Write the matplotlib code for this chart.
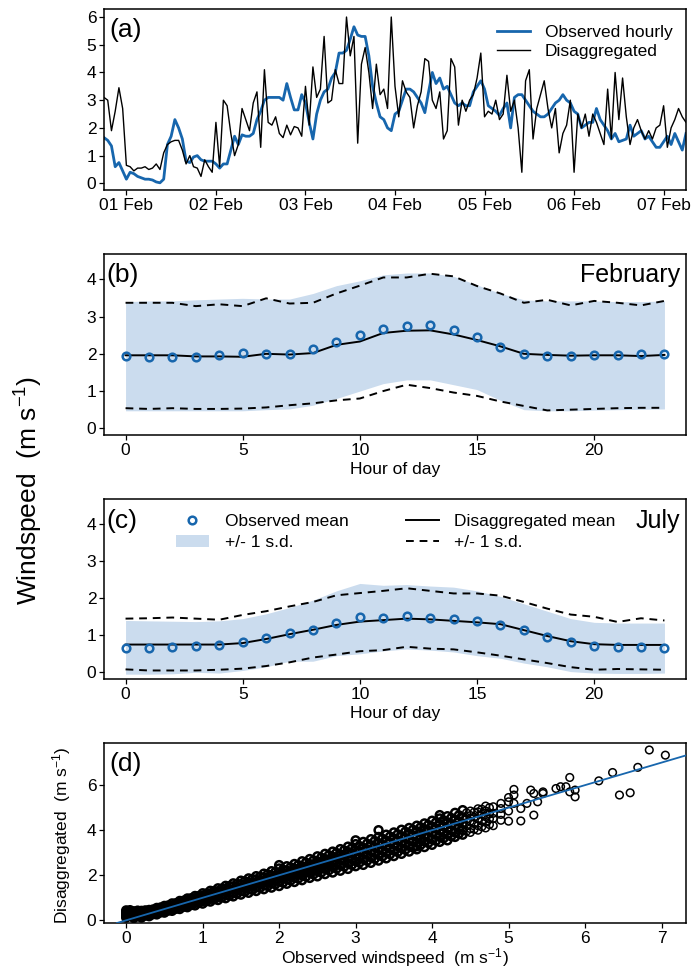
import numpy as np
import pandas as pd
import matplotlib
matplotlib.use('Agg')
import matplotlib.pyplot as plt
import matplotlib.dates as mdates
from matplotlib.patches import Patch
from matplotlib.lines import Line2D

plt.rcParams['font.family'] = ['Liberation Sans', 'DejaVu Sans']
plt.rcParams['mathtext.fontset'] = 'custom'
plt.rcParams['mathtext.rm'] = 'Liberation Sans'
plt.rcParams['mathtext.it'] = 'Liberation Sans:italic'
plt.rcParams['mathtext.default'] = 'rm'

BLUE = '#1766ad'
BAND = '#cbdcee'
W, H = 692, 971
FS = 12.5

# (a) one week of hourly windspeed, 31 Jan 18:00 .. 07 Feb 06:00
times = pd.date_range('2011-01-31 18:00', periods=157, freq='h')
obs_hourly = [
    1.65, 1.55, 1.35, 0.6, 0.75, 0.45, 0.15, 0.4, 0.35, 0.25, 0.2, 0.15,
    0.15, 0.12, 0.05, 0.02, 0.15, 1.4, 1.7, 2.3, 2.0, 1.6, 0.8, 0.75,
    0.95, 1.0, 0.85, 0.8, 0.8, 0.8, 0.7, 0.55, 0.7, 0.7, 1.2, 1.7,
    1.4, 1.75, 1.7, 1.7, 1.8, 2.3, 2.6, 3.0, 3.1, 3.1, 3.1, 3.1,
    3.0, 3.6, 3.1, 2.65, 2.65, 3.2, 2.9, 2.2, 1.6, 2.5, 3.0, 3.3,
    3.4, 3.8, 4.0, 4.7, 4.7, 4.8, 5.2, 5.65, 5.35, 5.3, 5.3, 4.6,
    3.5, 2.9, 2.4, 2.3, 2.0, 1.9, 2.5, 2.6, 3.0, 3.4, 3.4, 3.3,
    3.1, 2.9, 2.55, 3.3, 4.0, 3.6, 3.8, 3.4, 3.5, 3.2, 2.9, 2.8,
    2.9, 2.8, 2.8, 3.3, 3.5, 3.7, 3.4, 2.8, 2.7, 2.6, 2.45, 2.7,
    2.9, 2.0, 3.1, 3.2, 3.2, 3.0, 2.8, 2.6, 2.5, 2.4, 2.4, 2.5,
    2.7, 2.9, 3.0, 3.2, 3.0, 2.9, 2.6, 2.5, 2.0, 2.1, 2.2, 2.2,
    2.7, 2.3, 2.1, 1.9, 1.6, 1.8, 1.5, 1.55, 1.6, 2.1, 1.7, 1.8,
    1.9, 1.6, 1.7, 1.5, 1.3, 1.3, 1.5, 1.7, 1.4, 1.8, 1.5, 1.2,
    1.8]
dis_hourly = [
    3.1, 3.0, 1.9, 2.6, 3.45, 2.7, 0.65, 0.6, 0.45, 0.55, 0.55, 0.6,
    0.5, 0.55, 0.7, 0.5, 1.1, 1.4, 1.5, 1.55, 1.55, 1.2, 0.7, 1.0,
    0.6, 0.55, 0.25, 0.85, 0.6, 0.4, 2.2, 0.6, 3.0, 2.8, 1.8, 1.0,
    1.4, 2.7, 2.3, 1.9, 2.9, 3.3, 1.3, 4.1, 2.2, 2.1, 2.4, 1.8,
    1.65, 2.1, 1.75, 2.05, 2.0, 1.7, 3.5, 2.1, 4.2, 3.1, 3.4, 5.3,
    2.9, 3.0, 4.1, 3.6, 3.6, 6.0, 4.6, 5.3, 1.45, 4.3, 4.9, 4.0,
    2.7, 4.3, 3.2, 3.4, 2.7, 6.0, 3.5, 2.4, 3.7, 3.3, 3.1, 2.0,
    2.8, 3.3, 4.5, 4.4, 3.0, 2.7, 3.3, 1.6, 1.9, 4.5, 4.2, 2.1,
    3.0, 2.6, 3.0, 3.2, 3.8, 4.7, 2.4, 2.6, 2.5, 3.0, 2.3, 2.5,
    3.9, 2.6, 3.0, 2.0, 0.4, 3.7, 4.1, 1.6, 2.7, 3.2, 3.7, 2.7,
    2.0, 2.7, 1.1, 1.8, 2.1, 3.0, 0.4, 2.5, 2.0, 2.5, 1.7, 2.5,
    2.2, 1.8, 1.4, 3.4, 1.6, 4.0, 2.3, 3.8, 2.4, 1.4, 2.0, 2.3,
    1.9, 1.6, 1.9, 1.6, 2.0, 2.1, 2.8, 1.3, 2.0, 2.3, 2.7, 2.4,
    2.2]

# (b), (c) diurnal cycles
hours = list(range(24))
feb_obs_mean = [1.94, 1.92, 1.92, 1.92, 1.97, 2.03, 2.0, 2.0, 2.14, 2.33, 2.5, 2.66,
                2.75, 2.77, 2.64, 2.46, 2.17, 1.99, 1.94, 1.94, 1.97, 1.97, 1.99, 1.99]
feb_obs_lo = [0.47, 0.47, 0.47, 0.47, 0.47, 0.47, 0.5, 0.52, 0.62, 0.8, 1.0, 1.2,
              1.3, 1.3, 1.17, 1.04, 0.75, 0.5, 0.47, 0.47, 0.49, 0.5, 0.51, 0.52]
feb_obs_hi = [3.4, 3.42, 3.42, 3.45, 3.47, 3.49, 3.47, 3.47, 3.62, 3.83, 3.96, 4.12,
              4.17, 4.17, 4.08, 3.85, 3.62, 3.45, 3.42, 3.42, 3.42, 3.4, 3.4, 3.42]
feb_dis_mean = [1.96, 1.96, 1.96, 1.93, 1.93, 1.92, 2.0, 1.98, 2.02, 2.24, 2.33, 2.56,
                2.62, 2.63, 2.52, 2.37, 2.2, 2.0, 1.97, 1.95, 1.96, 1.96, 1.94, 1.97]
feb_dis_lo = [0.54, 0.52, 0.54, 0.52, 0.52, 0.53, 0.56, 0.62, 0.67, 0.75, 0.8, 1.0,
              1.17, 1.08, 0.96, 0.87, 0.72, 0.6, 0.48, 0.5, 0.52, 0.54, 0.55, 0.55]
feb_dis_hi = [3.37, 3.37, 3.37, 3.28, 3.33, 3.28, 3.49, 3.35, 3.37, 3.62, 3.83, 4.05,
              4.05, 4.15, 4.08, 3.82, 3.62, 3.37, 3.45, 3.3, 3.42, 3.37, 3.3, 3.42]

jul_obs_mean = [0.67, 0.65, 0.68, 0.7, 0.73, 0.81, 0.92, 1.05, 1.15, 1.34, 1.49, 1.46,
                1.52, 1.48, 1.45, 1.38, 1.29, 1.13, 0.95, 0.81, 0.72, 0.68, 0.68, 0.66]
jul_obs_lo = [-0.05, -0.05, -0.04, 0.0, -0.02, 0.05, 0.15, 0.3, 0.3, 0.45, 0.5, 0.58,
              0.63, 0.6, 0.55, 0.45, 0.38, 0.25, 0.15, 0.02, -0.02, -0.03, -0.03, -0.02]
jul_obs_hi = [1.4, 1.39, 1.38, 1.37, 1.39, 1.45, 1.58, 1.75, 1.95, 2.2, 2.4, 2.35,
              2.37, 2.33, 2.3, 2.2, 2.05, 1.85, 1.65, 1.45, 1.35, 1.33, 1.33, 1.33]
jul_dis_mean = [0.75, 0.75, 0.75, 0.75, 0.75, 0.79, 0.9, 1.03, 1.15, 1.28, 1.37, 1.41,
                1.45, 1.43, 1.39, 1.35, 1.3, 1.14, 0.98, 0.84, 0.76, 0.74, 0.74, 0.74]
jul_dis_lo = [0.08, 0.05, 0.05, 0.05, 0.07, 0.1, 0.17, 0.27, 0.4, 0.48, 0.57, 0.6,
              0.69, 0.64, 0.62, 0.54, 0.45, 0.35, 0.25, 0.14, 0.07, 0.09, 0.08, 0.07]
jul_dis_hi = [1.45, 1.46, 1.48, 1.45, 1.42, 1.55, 1.65, 1.78, 1.9, 2.08, 2.14, 2.2,
              2.27, 2.2, 2.13, 2.13, 2.07, 1.9, 1.72, 1.56, 1.5, 1.36, 1.46, 1.4]

# (d) observed vs disaggregated: observed value -> disaggregated values
scatter_rows = [
    (0.0, [0.12, 0.2, 0.28, 0.36, 0.44, 0.25, 0.32]),
    (0.05, [0.21, 0.29, 0.37, 0.45]),
    (0.1, [0.1, 0.18, 0.27, 0.35, 0.4]),
    (0.15, [0.19, 0.27, 0.36, 0.43]),
    (0.2, [0.12, 0.2, 0.28, 0.36, 0.42]),
    (0.25, [0.21, 0.29, 0.37, 0.44]),
    (0.3, [0.18, 0.25, 0.32, 0.4, 0.46]),
    (0.35, [0.27, 0.34, 0.41, 0.48]),
    (0.4, [0.26, 0.33, 0.4, 0.48, 0.55]),
    (0.45, [0.35, 0.42, 0.49, 0.57]),
    (0.5, [0.34, 0.42, 0.5, 0.58, 0.64]),
    (0.55, [0.43, 0.51, 0.59, 0.66]),
    (0.6, [0.42, 0.5, 0.58, 0.66, 0.75]),
    (0.65, [0.51, 0.59, 0.67, 0.76]),
    (0.7, [0.5, 0.6, 0.68, 0.77, 0.86]),
    (0.75, [0.6, 0.69, 0.78, 0.87]),
    (0.8, [0.58, 0.68, 0.78, 0.88, 0.97]),
    (0.85, [0.68, 0.78, 0.88, 0.98]),
    (0.9, [0.66, 0.77, 0.88, 0.98, 1.08]),
    (0.95, [0.77, 0.88, 0.98, 1.08]),
    (1.0, [0.74, 0.86, 0.97, 1.08, 1.2]),
    (1.05, [0.85, 0.97, 1.08, 1.19]),
    (1.1, [0.83, 0.95, 1.07, 1.19, 1.31]),
    (1.15, [0.94, 1.06, 1.18, 1.3]),
    (1.2, [0.9, 1.03, 1.16, 1.29, 1.42]),
    (1.25, [1.02, 1.15, 1.28, 1.41]),
    (1.3, [0.98, 1.12, 1.26, 1.4, 1.53]),
    (1.35, [1.1, 1.24, 1.38, 1.52]),
    (1.4, [1.06, 1.21, 1.36, 1.5, 1.64]),
    (1.45, [1.19, 1.34, 1.48, 1.62]),
    (1.5, [1.14, 1.3, 1.45, 1.6, 1.76]),
    (1.55, [1.27, 1.43, 1.58, 1.73]),
    (1.6, [1.22, 1.38, 1.54, 1.7, 1.86, 1.62]),
    (1.65, [1.35, 1.51, 1.67, 1.83]),
    (1.7, [1.3, 1.47, 1.64, 1.8, 1.96]),
    (1.75, [1.44, 1.61, 1.77, 1.93]),
    (1.8, [1.38, 1.56, 1.73, 1.9, 2.07]),
    (1.85, [1.52, 1.7, 1.87, 2.04]),
    (1.9, [1.45, 1.64, 1.82, 2.0, 2.18]),
    (1.95, [1.6, 1.78, 1.96, 2.14]),
    (2.0, [1.52, 1.72, 1.92, 2.1, 2.3, 2.45]),
    (2.05, [1.67, 1.87, 2.06, 2.25]),
    (2.1, [1.62, 1.82, 2.02, 2.2, 2.4]),
    (2.15, [1.77, 1.97, 2.16, 2.35]),
    (2.2, [1.7, 1.9, 2.1, 2.3, 2.5]),
    (2.25, [1.85, 2.05, 2.25, 2.45]),
    (2.3, [1.78, 2.0, 2.2, 2.4, 2.62]),
    (2.35, [1.94, 2.15, 2.35, 2.56]),
    (2.4, [1.88, 2.1, 2.3, 2.5, 2.72]),
    (2.45, [2.04, 2.25, 2.45, 2.66]),
    (2.5, [1.95, 2.18, 2.4, 2.62, 2.84]),
    (2.55, [2.12, 2.34, 2.56, 2.78]),
    (2.6, [2.05, 2.28, 2.5, 2.72, 2.95]),
    (2.65, [2.22, 2.44, 2.66, 2.89]),
    (2.7, [2.12, 2.36, 2.6, 2.82, 3.05]),
    (2.75, [2.29, 2.53, 2.76, 2.99]),
    (2.8, [2.2, 2.45, 2.7, 2.93, 3.16]),
    (2.85, [2.38, 2.63, 2.87, 3.1]),
    (2.9, [2.28, 2.54, 2.78, 3.03, 3.27]),
    (2.95, [2.46, 2.71, 2.96, 3.2]),
    (3.0, [2.4, 2.62, 2.88, 3.12, 3.38, 3.55]),
    (3.05, [2.56, 2.8, 3.05, 3.3]),
    (3.1, [2.46, 2.72, 2.98, 3.22, 3.48]),
    (3.15, [2.64, 2.9, 3.15, 3.4]),
    (3.2, [2.55, 2.8, 3.07, 3.33, 3.6]),
    (3.25, [2.73, 2.99, 3.25, 3.52]),
    (3.3, [2.65, 2.9, 3.17, 3.43, 3.7, 4.0]),
    (3.35, [2.83, 3.09, 3.35, 3.62]),
    (3.4, [2.75, 3.0, 3.27, 3.53, 3.8]),
    (3.45, [2.93, 3.19, 3.45, 3.72]),
    (3.5, [2.85, 3.1, 3.37, 3.63, 3.9]),
    (3.55, [3.03, 3.29, 3.55, 3.82]),
    (3.6, [2.95, 3.2, 3.47, 3.73, 4.02]),
    (3.65, [3.13, 3.39, 3.65, 3.93]),
    (3.7, [3.05, 3.3, 3.57, 3.84, 4.1]),
    (3.75, [3.23, 3.49, 3.76, 4.02]),
    (3.8, [3.15, 3.29, 3.45, 3.7, 3.95, 4.2]),
    (3.85, [3.35, 3.63, 3.88, 4.13]),
    (3.9, [3.25, 3.5, 3.78, 4.05, 4.3]),
    (3.95, [3.43, 3.69, 3.97, 4.23]),
    (4.0, [3.35, 3.6, 3.88, 4.15, 4.42]),
    (4.05, [3.53, 3.79, 4.07, 4.34]),
    (4.1, [3.48, 3.7, 3.98, 4.25, 4.52, 4.67]),
    (4.15, [3.64, 3.89, 4.17, 4.44]),
    (4.2, [3.55, 3.8, 4.08, 4.35, 4.62]),
    (4.25, [3.73, 3.99, 4.27, 4.54]),
    (4.3, [3.7, 3.9, 4.2, 4.45, 4.77]),
    (4.35, [3.85, 4.1, 4.38, 4.66]),
    (4.4, [3.8, 4.0, 4.3, 4.55, 4.89]),
    (4.45, [3.95, 4.2, 4.48, 4.77]),
    (4.5, [3.9, 4.07, 4.4, 4.65, 4.85]),
    (4.55, [4.04, 4.29, 4.58, 4.8]),
    (4.6, [4.0, 4.2, 4.5, 4.81, 4.95]),
    (4.65, [4.15, 4.4, 4.71, 4.93]),
    (4.7, [4.1, 4.35, 4.6, 5.07, 4.85]),
    (4.75, [4.25, 4.5, 4.72, 5.0]),
    (4.8, [4.2, 4.52, 4.75, 5.04]),
    (4.9, [4.44, 4.7, 4.96, 5.19]),
    (5.0, [4.4, 4.85, 5.26, 5.45]),
    (5.07, [5.56, 5.81, 5.19]),
    (5.16, [4.41, 4.96]),
    (5.24, [5.19]),
    (5.29, [5.78]),
    (5.33, [4.67, 5.63]),
    (5.38, [5.26]),
    (5.45, [5.7, 5.63]),
    (5.62, [5.85]),
    (5.68, [5.93]),
    (5.75, [5.93]),
    (5.8, [5.7, 6.34]),
    (5.87, [5.78, 5.48]),
    (6.18, [6.19]),
    (6.36, [6.56]),
    (6.45, [5.56]),
    (6.59, [5.66]),
    (6.69, [6.79]),
    (6.84, [7.56]),
    (7.05, [7.33]),
]


def add_ax(fig, left, top, right, bottom):
    return fig.add_axes([left / W, 1 - bottom / H, (right - left) / W, (bottom - top) / H])


def style(ax):
    for s in ax.spines.values():
        s.set_linewidth(1.1)
    ax.tick_params(direction='out', length=3.5, width=0.9, labelsize=FS, pad=2)


def ftext(fig, x, y, s, **kw):
    fig.text(x / W, 1 - y / H, s, **kw)


fig = plt.figure(figsize=(W / 100, H / 100), dpi=100)

# ---- (a)
ax = add_ax(fig, 104, 9, 686, 190)
ax.plot(times, obs_hourly, color=BLUE, lw=2.0, label='Observed hourly')
ax.plot(times, dis_hourly, color='black', lw=1.0, label='Disaggregated')
ax.set_xlim(times[0], times[-1])
ax.set_ylim(-0.24, 6.29)
ax.set_yticks(range(7))
ax.xaxis.set_major_locator(mdates.DayLocator())
ax.xaxis.set_major_formatter(mdates.DateFormatter('%d %b'))
style(ax)
ax.legend(loc='upper left', bbox_to_anchor=(497 / W, 1 - 25 / H), bbox_transform=fig.transFigure,
          frameon=False, fontsize=FS, handlelength=1.9, handletextpad=0.85,
          labelspacing=0.2, borderpad=0, borderaxespad=0)
ftext(fig, 109, 30, '(a)', fontsize=19, va='center', ha='left')


def diurnal(ax, obs_mean, obs_lo, obs_hi, dis_mean, dis_lo, dis_hi):
    ax.fill_between(hours, obs_lo, obs_hi, color=BAND, lw=0)
    ax.plot(hours, dis_hi, color='black', lw=1.4, dashes=(4, 3))
    ax.plot(hours, dis_lo, color='black', lw=1.4, dashes=(4, 3))
    ax.plot(hours, dis_mean, color='black', lw=1.4)
    ax.plot(hours, obs_mean, 'o', mfc='none', mec=BLUE, mew=1.8, ms=5.5)
    ax.set_xlim(-0.92, 23.92)
    ax.set_ylim(-0.18, 4.68)
    ax.set_yticks(range(5))
    ax.set_xticks([0, 5, 10, 15, 20])
    ax.set_xlabel('Hour of day', fontsize=FS, labelpad=3)
    style(ax)


# ---- (b)
ax = add_ax(fig, 104, 254, 686, 435)
diurnal(ax, feb_obs_mean, feb_obs_lo, feb_obs_hi, feb_dis_mean, feb_dis_lo, feb_dis_hi)
ftext(fig, 106, 275, '(b)', fontsize=19, va='center', ha='left')
ftext(fig, 680, 275, 'February', fontsize=18, va='center', ha='right')

# ---- (c)
ax = add_ax(fig, 104, 499, 686, 679)
diurnal(ax, jul_obs_mean, jul_obs_lo, jul_obs_hi, jul_dis_mean, jul_dis_lo, jul_dis_hi)
ftext(fig, 106, 521, '(c)', fontsize=19, va='center', ha='left')
ftext(fig, 680, 521, 'July', fontsize=18, va='center', ha='right')
handles = [Line2D([], [], ls='none', marker='o', mfc='none', mec=BLUE, mew=1.8, ms=5.5),
           Patch(facecolor=BAND, edgecolor='none'),
           Line2D([], [], color='black', lw=1.4),
           Line2D([], [], color='black', lw=1.4, dashes=(4, 3))]
labels = ['Observed mean', '+/- 1 s.d.', 'Disaggregated mean', '+/- 1 s.d.']
ax.legend(handles, labels, ncol=2, loc='upper left', bbox_to_anchor=(176 / W, 1 - 514 / H),
          bbox_transform=fig.transFigure, frameon=False, fontsize=FS, handlelength=1.9,
          handletextpad=0.9, columnspacing=3.3, labelspacing=0.35, borderpad=0, borderaxespad=0)

ftext(fig, 29, 490, 'Windspeed  (m s$^{-1}$)', fontsize=19, rotation=90, va='center', ha='center')

# ---- (d)
obs_pts = np.array([o for o, ds in scatter_rows for _ in ds])
dis_pts = np.array([d for _, ds in scatter_rows for d in ds])
dense = obs_pts <= 4.4
ax = add_ax(fig, 104, 743, 686, 923)
ax.scatter(obs_pts[dense], dis_pts[dense], s=32, facecolors='none', edgecolors='black',
           linewidths=1.8, zorder=2)
ax.scatter(obs_pts[~dense], dis_pts[~dense], s=30, facecolors='none', edgecolors='black',
           linewidths=1.1, zorder=2)
ax.axline((0, 0), slope=1, color=BLUE, lw=1.3, zorder=3)
ax.set_xlim(-0.29, 7.32)
ax.set_ylim(-0.12, 7.87)
ax.set_yticks([0, 2, 4, 6])
ax.set_xticks(range(8))
style(ax)
ftext(fig, 109, 764, '(d)', fontsize=19, va='center', ha='left')
ftext(fig, 62, 835, 'Disaggregated  (m s$^{-1}$)', fontsize=FS, rotation=90, va='center', ha='center')
ftext(fig, 395, 958, 'Observed windspeed  (m s$^{-1}$)', fontsize=FS, va='center', ha='center')

fig.savefig('out.png', dpi=100)
